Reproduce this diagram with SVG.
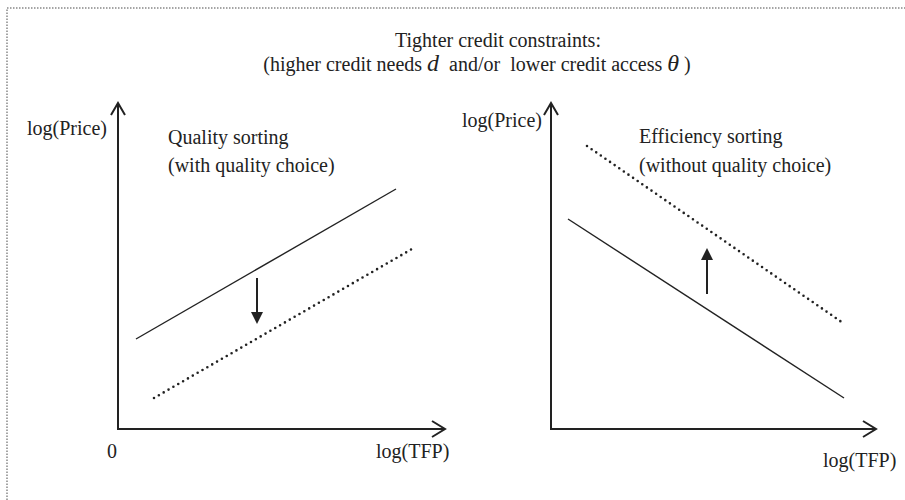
<svg xmlns="http://www.w3.org/2000/svg" width="905" height="500" viewBox="0 0 905 500">
  <defs>
    <style>
      text { font-family: "Liberation Serif", "Times New Roman", serif; font-size: 20px; fill: #222; }
      .axis { stroke: #222; stroke-width: 2; fill: none; }
      .head { stroke: #222; stroke-width: 2; fill: none; stroke-linejoin: miter; }
      .solid { stroke: #222; stroke-width: 1.4; fill: none; }
      .dotted { stroke: #222; stroke-width: 2.6; fill: none; stroke-linecap: round; stroke-dasharray: 0 5.6; }
      .shift { stroke: #222; stroke-width: 2; fill: none; }
      .tri { fill: #222; stroke: none; }
      .frame { stroke: #888; stroke-width: 1.5; fill: none; stroke-dasharray: 1.5 1.5; }
      .math { font-style: italic; font-size: 24px; }
    </style>
  </defs>

  <rect width="905" height="500" fill="#ffffff"/>

  <!-- dotted frame (top and left edges) -->
  <path class="frame" d="M7 500 V8 H905"/>

  <!-- heading -->
  <g id="heading">
    <text x="498" y="47" text-anchor="middle" font-size="23">Tighter credit constraints:</text>
    <text x="477" y="71" text-anchor="middle" font-size="21.5" xml:space="preserve">(higher credit needs <tspan class="math">d</tspan>  and/or  lower credit access <tspan class="math">θ</tspan> )</text>
  </g>

  <!-- left panel: quality sorting -->
  <g id="quality-panel">
    <path class="axis" d="M118 104 V429 H444"/>
    <path class="head" d="M111 115 L118 103 L125 115"/>
    <path class="head" d="M432 421 L445 429 L432 437"/>
    <text x="27" y="135">log(Price)</text>
    <text x="107" y="458">0</text>
    <text x="376" y="458">log(TFP)</text>
    <text x="168" y="144">Quality sorting</text>
    <text x="168" y="172">(with quality choice)</text>
    <line class="solid" x1="136" y1="339" x2="396" y2="189"/>
    <line class="dotted" x1="154" y1="398" x2="412" y2="249"/>
  </g>

  <!-- right panel: efficiency sorting -->
  <g id="efficiency-panel">
    <path class="axis" d="M551 104 V429 H875"/>
    <path class="head" d="M544 115 L551 103 L558 115"/>
    <path class="head" d="M863 421 L876 429 L863 437"/>
    <text x="462" y="127">log(Price)</text>
    <text x="823" y="467">log(TFP)</text>
    <text x="639" y="143">Efficiency sorting</text>
    <text x="639" y="172">(without quality choice)</text>
    <line class="solid" x1="568" y1="219" x2="844" y2="398"/>
    <line class="dotted" x1="587" y1="146" x2="843" y2="323"/>
  </g>

  <!-- shift arrows -->
  <g id="connectors">
    <line class="shift" x1="257" y1="278" x2="257" y2="313"/>
    <polygon class="tri" points="251,312 263,312 257,324"/>
    <line class="shift" x1="707" y1="294" x2="707" y2="259"/>
    <polygon class="tri" points="701,260 713,260 707,248"/>
  </g>
</svg>
